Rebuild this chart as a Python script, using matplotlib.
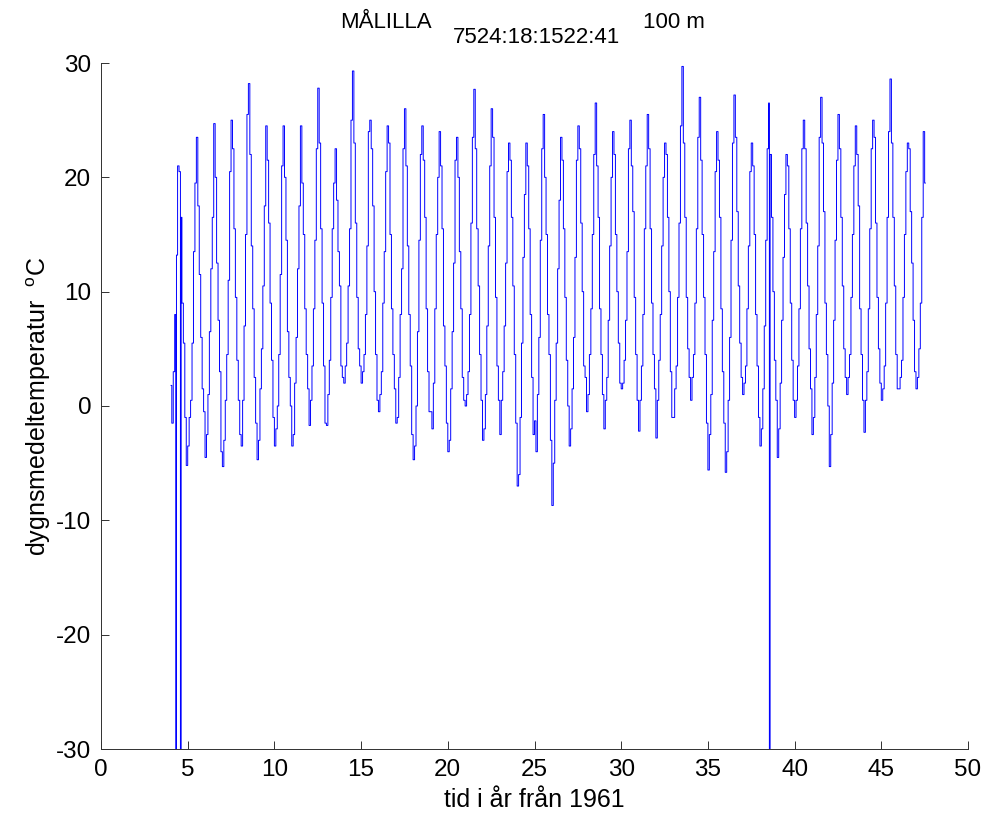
import numpy as np
import matplotlib
matplotlib.use('Agg')
import matplotlib.pyplot as plt

plt.rcParams['font.family'] = ['Liberation Sans', 'DejaVu Sans']
plt.rcParams['mathtext.fontset'] = 'custom'
plt.rcParams['mathtext.rm'] = 'Liberation Sans'
plt.rcParams['axes.unicode_minus'] = False

# monthly values (Jan..Dec), years counted from 1961
first_year = 4
temp_65_74 = [
    [1.8, -1.5, 3.0, 8.0, 13.2, 21.0, 20.5, 16.5, 9.0, 5.5, -1.0, -5.2],
    [-3.5, -1.0, 0.5, 5.5, 13.5, 19.5, 23.5, 17.5, 11.5, 6.0, 1.5, -0.5],
    [-4.5, -2.5, 1.0, 6.5, 12.0, 16.5, 24.7, 20.0, 12.5, 7.5, 3.0, -4.0],
    [-5.3, -3.0, 0.5, 4.5, 11.0, 20.5, 25.0, 22.5, 15.5, 9.5, 4.0, 0.5],
    [-2.5, -3.5, 0.5, 7.0, 15.0, 25.5, 28.2, 22.0, 14.0, 8.5, 2.5, -1.5],
    [-4.7, -3.0, 1.5, 5.0, 10.5, 17.5, 24.5, 21.5, 16.0, 9.0, 4.0, -1.0],
    [-3.5, -2.0, 0.0, 4.5, 11.5, 21.0, 24.5, 20.0, 14.5, 6.5, 2.5, 0.0],
    [-3.5, -2.5, 2.0, 6.0, 12.0, 17.5, 24.5, 19.5, 15.0, 8.5, 4.5, 1.5],
    [-1.7, 0.5, 3.5, 8.5, 14.5, 22.5, 27.8, 23.0, 15.5, 9.0, 3.5, -1.5],
    [-1.7, 1.0, 4.0, 9.5, 15.5, 19.5, 22.5, 18.0, 13.5, 10.5, 3.5, 2.5],
]
temp_75_84 = [
    [2.0, 3.5, 5.5, 10.5, 15.5, 25.0, 29.3, 23.0, 16.0, 9.5, 5.0, 3.5],
    [2.0, 3.0, 4.5, 8.0, 14.0, 24.0, 25.0, 22.5, 17.5, 10.0, 4.5, 0.5],
    [-0.5, 1.0, 3.0, 9.0, 13.5, 20.5, 24.5, 23.0, 15.0, 8.5, 4.5, 1.5],
    [-1.5, -1.0, 2.5, 8.0, 12.0, 22.5, 26.0, 21.0, 14.0, 8.0, 3.5, -2.5],
    [-4.7, -3.5, 0.0, 6.5, 14.5, 22.0, 24.5, 21.5, 16.5, 8.5, 3.0, -0.5],
    [-0.5, -2.0, 2.0, 8.5, 15.0, 20.0, 24.0, 21.0, 15.5, 7.0, 3.5, -1.5],
    [-4.0, -3.0, 1.5, 6.5, 12.5, 21.5, 23.5, 20.0, 13.5, 8.5, 2.5, 0.5],
    [0.0, 1.0, 3.0, 8.0, 16.0, 23.5, 27.7, 22.5, 15.5, 10.5, 4.5, 0.5],
    [-3.0, -2.0, 1.0, 7.0, 14.0, 21.0, 26.0, 23.5, 16.5, 9.5, 3.5, 0.5],
    [-2.5, 0.5, 3.0, 7.0, 12.5, 20.5, 23.0, 21.5, 16.5, 10.5, 4.5, -1.5],
]
temp_85_94 = [
    [-7.0, -6.0, -1.0, 5.5, 13.0, 18.5, 23.0, 21.0, 15.5, 8.0, 2.5, -2.5],
    [-1.3, -4.0, 1.0, 6.0, 14.5, 22.5, 25.5, 20.0, 15.0, 8.0, 4.5, -3.0],
    [-8.7, -5.0, 0.5, 5.5, 12.0, 18.0, 23.5, 21.5, 15.5, 9.5, 4.0, 0.0],
    [-3.5, -2.0, 1.5, 6.0, 13.0, 21.5, 24.5, 22.5, 16.0, 10.0, 3.5, 2.5],
    [-0.5, 1.0, 4.5, 8.5, 15.0, 22.0, 26.5, 21.0, 16.5, 8.5, 4.5, 1.0],
    [-2.0, 0.5, 2.5, 7.5, 14.0, 20.0, 24.0, 22.0, 15.0, 10.0, 5.5, 2.0],
    [1.5, 2.0, 4.0, 7.5, 13.5, 22.5, 25.0, 21.0, 17.0, 9.5, 4.5, 0.5],
    [-2.2, 0.5, 3.5, 8.0, 15.5, 21.0, 25.5, 22.5, 15.5, 9.0, 4.5, 1.5],
    [-2.8, 0.5, 4.0, 8.0, 14.0, 20.0, 23.0, 22.0, 16.5, 10.0, 3.0, -1.0],
    [-1.0, 1.5, 3.5, 9.5, 16.0, 24.5, 29.7, 23.0, 16.5, 9.5, 5.0, 2.5],
]
temp_95_04 = [
    [0.5, 2.5, 4.5, 9.0, 15.5, 23.5, 27.0, 21.5, 15.0, 9.5, 4.5, -1.5],
    [-5.6, -2.5, 1.0, 7.5, 13.5, 20.5, 24.0, 21.5, 16.5, 8.5, 3.0, -1.5],
    [-5.8, -4.0, 0.5, 6.0, 14.5, 23.0, 27.2, 23.5, 17.0, 10.5, 5.5, 2.5],
    [1.0, 2.0, 3.5, 8.5, 14.0, 20.5, 23.0, 21.0, 15.0, 8.0, 3.5, -1.0],
    [-3.5, -2.0, 1.5, 7.0, 14.5, 22.5, 26.5, 22.0, 16.5, 10.0, 4.0, 0.5],
    [-4.5, -2.0, 2.0, 7.5, 13.0, 18.5, 22.0, 21.0, 15.5, 9.0, 4.0, 0.5],
    [-1.0, 0.5, 3.5, 8.5, 15.5, 22.5, 25.0, 22.5, 16.0, 10.5, 5.0, 1.5],
    [-2.5, -1.0, 2.5, 8.0, 14.0, 23.5, 27.0, 23.0, 17.0, 9.0, 4.5, 0.0],
    [-5.3, -2.5, 2.0, 7.5, 14.5, 21.5, 25.5, 22.5, 16.5, 10.5, 5.0, 2.5],
    [1.0, 2.5, 4.5, 9.5, 15.0, 21.0, 24.5, 22.0, 17.5, 8.5, 4.5, 0.5],
]
temp_05_08 = [
    [-2.3, 0.5, 3.0, 8.5, 15.5, 22.5, 25.0, 23.5, 16.0, 9.5, 5.0, 2.0],
    [0.5, 1.5, 3.5, 9.0, 16.5, 24.0, 28.6, 23.0, 16.5, 10.5, 4.5, 1.5],
    [1.5, 2.5, 4.0, 9.5, 15.0, 20.5, 23.0, 22.5, 17.0, 12.5, 7.5, 3.0],
    [1.5, 2.5, 5.0, 9.0, 16.5, 24.0, 19.5],
]

# days flagged as missing (stored as -99)
missing_at = [4.33, 4.62, 38.55]
missing_value = -99.0

yticks = [-30, -20, -10, 0, 10, 20, 30]
xticks = [0, 5, 10, 15, 20, 25, 30, 35, 40, 45, 50]

rows = temp_65_74 + temp_75_84 + temp_85_94 + temp_95_04 + temp_05_08
t, v = [], []
for i, row in enumerate(rows):
    for m, val in enumerate(row):
        t.append(first_year + i + (m + 0.5) / 12)
        v.append(val)
for tm in missing_at:
    t.append(tm)
    v.append(missing_value)
order = np.argsort(t)
t = np.array(t)[order]
v = np.array(v)[order]

W, H = 987, 818
fig = plt.figure(figsize=(W / 100, H / 100), dpi=100)
ax = fig.add_axes([101 / W, 1 - 749 / H, 867 / W, 686 / H])

ax.plot(t, v, color='#0000ff', lw=0.7, drawstyle='steps-mid')

ax.set_xlim(0, 50)
ax.set_ylim(-30, 30)
ax.set_xticks(xticks)
ax.set_yticks(yticks)
for s in ['top', 'right']:
    ax.spines[s].set_visible(False)
for s in ['left', 'bottom']:
    ax.spines[s].set_color('#303030')
    ax.spines[s].set_linewidth(0.7)
ax.tick_params(direction='in', length=6, width=0.7, color='#303030', labelsize=17.5, pad=7)

ax.set_xlabel('tid i år från 1961', fontsize=18, labelpad=5)
ax.set_ylabel('dygnsmedeltemperatur  $^{\\mathrm{o}}$C', fontsize=18)
ax.yaxis.set_label_coords(-0.055, 0.5)

# title with subscript, MATLAB style
fs = 16
fig.text(340 / W, 1 - 28.5 / H, 'MÅLILLA', fontsize=fs, va='baseline', ha='left')
fig.text(453 / W, 1 - 43 / H, '7524:18:1522:41', fontsize=fs, va='baseline', ha='left')
fig.text(643 / W, 1 - 28.5 / H, '100 m', fontsize=fs, va='baseline', ha='left')

fig.savefig('out.png', dpi=100)
